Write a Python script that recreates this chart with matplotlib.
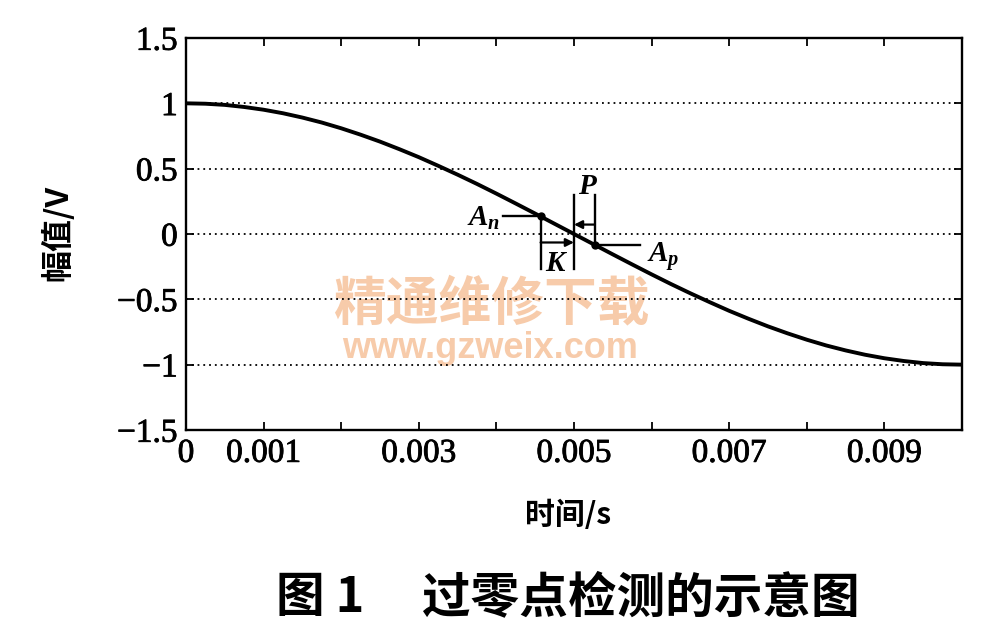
import matplotlib
matplotlib.use("Agg")
import matplotlib.pyplot as plt
import matplotlib.patheffects as pe

# ---- data ----
t_s = [0.0, 0.00025, 0.0005, 0.00075, 0.001, 0.00125, 0.0015, 0.00175, 0.002, 0.00225,
       0.0025, 0.00275, 0.003, 0.00325, 0.0035, 0.00375, 0.004, 0.00425, 0.0045, 0.00475,
       0.005, 0.00525, 0.0055, 0.00575, 0.006, 0.00625, 0.0065, 0.00675, 0.007, 0.00725,
       0.0075, 0.00775, 0.008, 0.00825, 0.0085, 0.00875, 0.009, 0.00925, 0.0095, 0.00975, 0.01]
amp_v = [1.000, 0.997, 0.988, 0.972, 0.951, 0.924, 0.891, 0.853, 0.809, 0.760,
         0.707, 0.649, 0.588, 0.522, 0.454, 0.383, 0.309, 0.233, 0.156, 0.078,
         0.000, -0.078, -0.156, -0.233, -0.309, -0.383, -0.454, -0.522, -0.588, -0.649,
         -0.707, -0.760, -0.809, -0.853, -0.891, -0.924, -0.951, -0.972, -0.988, -0.997, -1.000]

an_point = (0.00457, 0.135)    # A_n
ap_point = (0.00527, -0.085)   # A_p
zero_cross = 0.005

x_ticks = [0.0, 0.001, 0.002, 0.003, 0.004, 0.005, 0.006, 0.007, 0.008, 0.009, 0.01]
x_tick_labels = ["0", "0.001", "", "0.003", "", "0.005", "", "0.007", "", "0.009", ""]
y_ticks = [-1.5, -1.0, -0.5, 0.0, 0.5, 1.0, 1.5]
y_tick_labels = ["\u22121.5", "\u22121", "\u22120.5", "0", "0.5", "1", "1.5"]
grid_levels = [-1.0, -0.5, 0.0, 0.5, 1.0]

plt.rcParams['mathtext.fontset'] = 'custom'
plt.rcParams['mathtext.it'] = 'Liberation Serif:italic:bold'
plt.rcParams['mathtext.rm'] = 'Liberation Serif:bold'

CJK = ['Noto Sans CJK SC', 'DejaVu Sans']
thick = [pe.withStroke(linewidth=0.6, foreground='black')]

fig = plt.figure(figsize=(9.82, 6.29), dpi=100)
ax = fig.add_axes([0.1894, 0.3164, 0.7902, 0.6232])

ax.plot(t_s, amp_v, color='black', lw=2.8, zorder=3, solid_capstyle='butt')
ax.set_xlim(0, 0.01)
ax.set_ylim(-1.5, 1.5)

for g in grid_levels:
    ax.axhline(g, color='black', lw=1.3, ls=(0, (1, 2.2)), zorder=1.5)

ax.set_xticks(x_ticks)
ax.set_xticklabels(x_tick_labels)
ax.set_yticks(y_ticks)
ax.set_yticklabels(y_tick_labels)
ax.tick_params(direction='in', length=6, width=1.3, top=True, right=True,
               labelsize=24, pad=6)
for lab in ax.get_xticklabels() + ax.get_yticklabels():
    lab.set_fontfamily('Liberation Serif')
    lab.set_path_effects(thick)
for sp in ax.spines.values():
    sp.set_linewidth(1.7)

# ---- annotations ----
lk = dict(color='black', lw=1.7, zorder=4)
ax.plot(*an_point, 'o', color='black', ms=5, zorder=5)
ax.plot(*ap_point, 'o', color='black', ms=5, zorder=5)
# A_n leader
ax.plot([0.00408, an_point[0]], [an_point[1], an_point[1]], **lk)
ax.text(0.00383, an_point[1] - 0.01, r'$A_n$', fontsize=21, ha='center', va='center')
# vertical lines for K
ax.plot([an_point[0], an_point[0]], [an_point[1], -0.27], **lk)
ax.plot([zero_cross, zero_cross], [0.30, -0.27], **lk)
ax.annotate('', xy=(zero_cross, -0.065), xytext=(an_point[0], -0.065),
            arrowprops=dict(arrowstyle='-|>', color='black', lw=1.6, mutation_scale=12,
                            shrinkA=0, shrinkB=0), zorder=4)
ax.text(0.00478, -0.22, r'$K$', fontsize=21, ha='center', va='center')
# P
ax.plot([ap_point[0], ap_point[0]], [0.30, ap_point[1]], **lk)
ax.annotate('', xy=(zero_cross, 0.072), xytext=(ap_point[0], 0.072),
            arrowprops=dict(arrowstyle='-|>', color='black', lw=1.6, mutation_scale=12,
                            shrinkA=0, shrinkB=0), zorder=4)
ax.text(0.00518, 0.37, r'$P$', fontsize=21, ha='center', va='center')
# A_p leader
ax.plot([ap_point[0], 0.00585], [ap_point[1], ap_point[1]], **lk)
ax.text(0.00615, -0.17, r'$A_p$', fontsize=21, ha='center', va='center')

# ---- watermark ----
ax.text(0.393, 0.322, "精通维修下载", transform=ax.transAxes, fontsize=38,
        family=CJK, weight='bold', color='#F7CBAA',
        ha='center', va='center', zorder=1.2)
ax.text(0.392, 0.207, "www.gzweix.com", transform=ax.transAxes, fontsize=26,
        family=['Liberation Sans', 'DejaVu Sans'], weight='bold', color='#F7CBAA',
        ha='center', va='center', zorder=1.2)

# ---- labels ----
fig.text(0.059, 1 - 233 / 629, "幅值/V", rotation=90, fontsize=23,
         family=CJK, weight='bold', ha='center', va='center')
fig.text(568 / 982, 1 - 515 / 629, "时间/s", fontsize=21.5,
         family=CJK, weight='bold', ha='center', va='center')
fig.text(320 / 982, 1 - 598 / 629, "图 1", fontsize=35,
         family=CJK, weight='heavy', ha='center', va='center')
fig.text(641 / 982, 1 - 598 / 629, "过零点检测的示意图", fontsize=35,
         family=CJK, weight='heavy', ha='center', va='center')

fig.savefig("out.png", dpi=100)
